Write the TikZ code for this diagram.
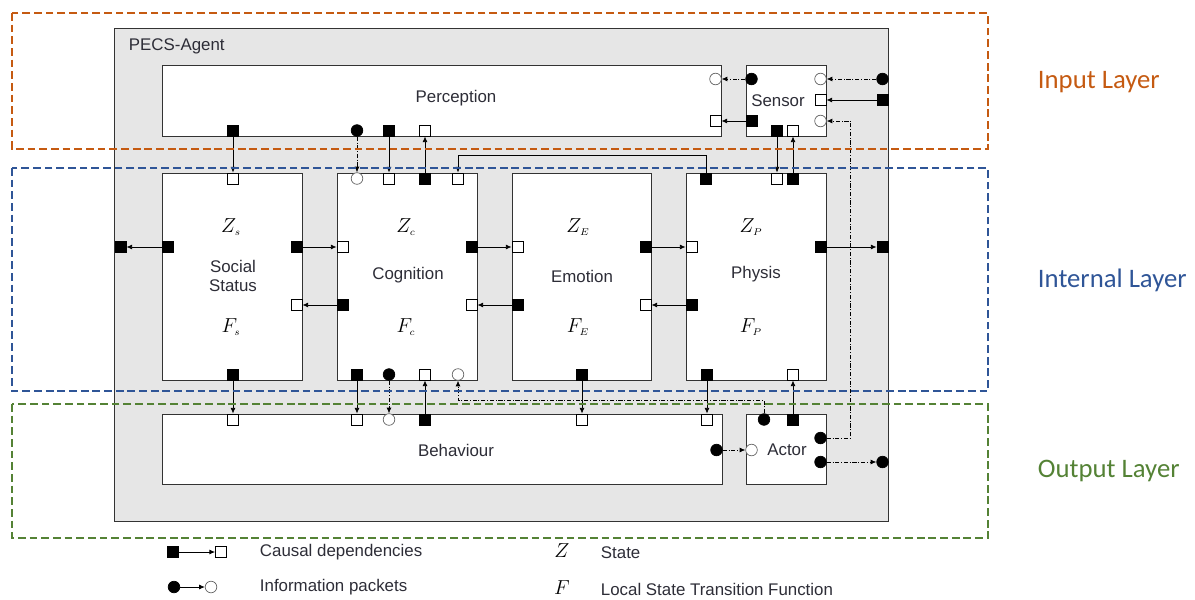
\documentclass[tikz,border=0pt]{standalone}
\usepackage{fontspec}
\setmainfont{Liberation Sans}
\newfontfamily\layerfont{Carlito}
\usetikzlibrary{arrows.meta,calc}
\definecolor{agentgray}{RGB}{230,230,230}
\definecolor{inputc}{RGB}{197,90,17}
\definecolor{internalc}{RGB}{47,85,151}
\definecolor{outputc}{RGB}{84,130,53}
\definecolor{boxtextc}{RGB}{45,45,55}
\tikzset{
  module/.style={draw=black!80,fill=white,line width=0.6pt,inner sep=0pt},
  causeout/.style={rectangle,draw,fill=black,minimum size=0.28cm,inner sep=0pt,line width=0.5pt},
  causein/.style={rectangle,draw,fill=white,minimum size=0.28cm,inner sep=0pt,line width=0.5pt},
  infoout/.style={circle,draw,fill=black,minimum size=0.29cm,inner sep=0pt,line width=0.5pt},
  infoin/.style={circle,draw=black!60,fill=white,minimum size=0.29cm,inner sep=0pt,line width=0.5pt},
  causal/.style={-{Latex[length=4pt,width=3.4pt]},line width=0.5pt},
  info/.style={causal,dash pattern=on 3pt off 1.2pt on 0.7pt off 1.2pt},
  layer/.style={line width=1.7pt,dash pattern=on 5.5pt off 2.8pt}
}

\begin{document}
\begin{tikzpicture}[x=0.025cm,y=-0.025cm,
  boxtext/.style={font=\fontsize{12}{14}\selectfont,text=boxtextc,align=center},
  statevar/.style={font=\fontsize{14}{16}\selectfont},
  layertext/.style={font=\layerfont\fontsize{19}{22}\selectfont,anchor=west}
]
  \useasboundingbox (0,0) rectangle (1195,599);
  % agent and modules
  \node[module,fill=agentgray,minimum width=19.325cm,minimum height=12.325cm] (agent) at (501.5,274.5) {};
  \node[boxtext,anchor=west] (agentname) at (124,46) {PECS-Agent};
  \node[module,minimum width=13.975cm,minimum height=1.775cm] (perception) at (441.5,100.5) {};
  \node[module,minimum width=2cm,minimum height=1.775cm] (sensor) at (786,100.5) {};
  \node[module,minimum width=3.5cm,minimum height=5.175cm] (social) at (232,276.5) {};
  \node[module,minimum width=3.5cm,minimum height=5.175cm] (cognition) at (407,276.5) {};
  \node[module,minimum width=3.475cm,minimum height=5.175cm] (emotion) at (581.5,276.5) {};
  \node[module,minimum width=3.5cm,minimum height=5.175cm] (physis) at (756,276.5) {};
  \node[module,minimum width=14cm,minimum height=1.75cm] (behaviour) at (442,449) {};
  \node[module,minimum width=2cm,minimum height=1.75cm] (actor) at (786,449) {};

  \node[boxtext] (perceptionname) at (456,98) {Perception};
  \node[boxtext] (sensorname) at (778,101) {Sensor};
  \node[boxtext] (socialname) at (233,276) {Social\\Status};
  \node[boxtext] (cognitionname) at (408,275) {Cognition};
  \node[boxtext] (emotionname) at (582,276) {Emotion};
  \node[boxtext] (physisname) at (756,274) {Physis};
  \node[boxtext] (behaviourname) at (456,450) {Behaviour};
  \node[boxtext] (actorname) at (787,450) {Actor};

  \node[statevar] (socz) at (231,227) {$Z_{\scriptscriptstyle s}$};
  \node[statevar] (socf) at (231,327) {$F_{\scriptscriptstyle s}$};
  \node[statevar] (cogz) at (406,227) {$Z_{\scriptscriptstyle c}$};
  \node[statevar] (cogf) at (406,327) {$F_{\scriptscriptstyle c}$};
  \node[statevar] (emoz) at (578,227) {$Z_{\scriptscriptstyle E}$};
  \node[statevar] (emof) at (578,327) {$F_{\scriptscriptstyle E}$};
  \node[statevar] (phyz) at (751,227) {$Z_{\scriptscriptstyle P}$};
  \node[statevar] (phyf) at (751,327) {$F_{\scriptscriptstyle P}$};

  % ports
  \node[causeout] (percB1) at (233,130.5) {};
  \node[infoout] (percB2) at (357,130.5) {};
  \node[causeout] (percB3) at (389,130.5) {};
  \node[causein] (percB4) at (425,130.5) {};
  \node[infoin] (percR1) at (715.5,79) {};
  \node[causein] (percR2) at (715.5,121) {};
  \node[infoout] (senL1) at (751.5,79) {};
  \node[causeout] (senL2) at (751.5,121) {};
  \node[infoin] (senR1) at (820.5,79) {};
  \node[causein] (senR2) at (820.5,100) {};
  \node[infoin] (senR3) at (820.5,121) {};
  \node[causeout] (senB1) at (777,130.5) {};
  \node[causein] (senB2) at (793,130.5) {};
  \node[infoout] (agtR1) at (882.5,79) {};
  \node[causeout] (agtR2) at (882.5,100) {};
  \node[causeout] (agtR3) at (882.5,247) {};
  \node[infoout] (agtR4) at (882.5,462) {};
  \node[causeout] (agtL) at (120.5,247) {};

  \node[causein] (socT) at (233,178.5) {};
  \node[causeout] (socL) at (167.5,247) {};
  \node[causeout] (socR1) at (296.5,247) {};
  \node[causein] (socR2) at (296.5,305) {};
  \node[causeout] (socB) at (233,374.5) {};

  \node[infoin] (cogT1) at (357,178.5) {};
  \node[causein] (cogT2) at (389,178.5) {};
  \node[causeout] (cogT3) at (425,178.5) {};
  \node[causein] (cogT4) at (458,178.5) {};
  \node[causein] (cogL1) at (342.5,247) {};
  \node[causeout] (cogL2) at (342.5,305) {};
  \node[causeout] (cogR1) at (471.5,247) {};
  \node[causein] (cogR2) at (471.5,305) {};
  \node[causeout] (cogB1) at (357,374.5) {};
  \node[infoout] (cogB2) at (389,374.5) {};
  \node[causein] (cogB3) at (425,374.5) {};
  \node[infoin] (cogB4) at (458,374.5) {};

  \node[causein] (emoL1) at (517.5,247) {};
  \node[causeout] (emoL2) at (517.5,305) {};
  \node[causeout] (emoR1) at (645.5,247) {};
  \node[causein] (emoR2) at (645.5,305) {};
  \node[causeout] (emoB) at (582,374.5) {};

  \node[causeout] (phyT1) at (706,178.5) {};
  \node[causein] (phyT2) at (777,178.5) {};
  \node[causeout] (phyT3) at (793,178.5) {};
  \node[causein] (phyL1) at (691.5,247) {};
  \node[causeout] (phyL2) at (691.5,305) {};
  \node[causeout] (phyR) at (820.5,247) {};
  \node[causeout] (phyB1) at (707,374.5) {};
  \node[causein] (phyB2) at (793,374.5) {};

  \node[causein] (behT1) at (233,419.5) {};
  \node[causein] (behT2) at (357,419.5) {};
  \node[infoin] (behT3) at (389,419.5) {};
  \node[causeout] (behT4) at (425,419.5) {};
  \node[causein] (behT5) at (582,419.5) {};
  \node[causein] (behT6) at (707,419.5) {};
  \node[infoout] (behR) at (716.5,450) {};
  \node[infoout] (actT1) at (764,419.5) {};
  \node[causeout] (actT2) at (793,419.5) {};
  \node[infoin] (actL) at (751.5,450) {};
  \node[infoout] (actR1) at (820.5,438) {};
  \node[infoout] (actR2) at (820.5,462) {};

  % causal dependencies
  \draw[causal] (percB1) -- (socT);
  \draw[causal] (percB3) -- (cogT2);
  \draw[causal] (cogT3) -- (percB4);
  \draw[causal] (senL2) -- (percR2);
  \draw[causal] (agtR2) -- (senR2);
  \draw[causal] (senB1) -- (phyT2);
  \draw[causal] (phyT3) -- (senB2);
  \draw[causal] (phyT1.north) -- ++(0,-17) -| (cogT4.north);
  \draw[causal] (socL) -- (agtL);
  \draw[causal] (socR1) -- (cogL1);
  \draw[causal] (cogL2) -- (socR2);
  \draw[causal] (cogR1) -- (emoL1);
  \draw[causal] (emoL2) -- (cogR2);
  \draw[causal] (emoR1) -- (phyL1);
  \draw[causal] (phyL2) -- (emoR2);
  \draw[causal] (phyR) -- (agtR3);
  \draw[causal] (socB) -- (behT1);
  \draw[causal] (cogB1) -- (behT2);
  \draw[causal] (behT4) -- (cogB3);
  \draw[causal] (emoB) -- (behT5);
  \draw[causal] (phyB1) -- (behT6);
  \draw[causal] (actT2) -- (phyB2);
  % information packets
  \draw[info] (percB2) -- (cogT1);
  \draw[info] (senL1) -- (percR1);
  \draw[info] (agtR1) -- (senR1);
  \draw[info] (cogB2) -- (behT3);
  \draw[info] (actT1.north) -- ++(0,-13) -| (cogB4.south);
  \draw[info] (behR) -- (actL);
  \draw[info] (actR1.east) -- ++(24,0) |- (senR3.east);
  \draw[info] (actR2) -- (agtR4);

  % layers
  \draw[layer,draw=inputc] (12,13) rectangle (988,149);
  \draw[layer,draw=internalc] (12,168) rectangle (988,391);
  \draw[layer,draw=outputc] (12,404) rectangle (988,538);
  \node[layertext,text=inputc] (inputname) at (1033,82) {Input Layer};
  \node[layertext,text=internalc] (internalname) at (1033,280) {Internal Layer};
  \node[layertext,text=outputc] (outputname) at (1033,471) {Output Layer};

  % legend
  \node[causeout] (legsq1) at (173,552) {};
  \node[causein] (legsq2) at (221,552) {};
  \node[infoout] (legci1) at (174,587) {};
  \node[infoin] (legci2) at (211,587) {};
  \draw[causal] (legsq1) -- (legsq2);
  \draw[causal] (legci1) -- (legci2);
  \node[boxtext,anchor=west] (legcausal) at (255,552) {Causal dependencies};
  \node[boxtext,anchor=west] (leginfo) at (255,587) {Information packets};
  \node[statevar] (legz) at (562,551) {$Z$};
  \node[statevar] (legf) at (562,588) {$F$};
  \node[boxtext,anchor=west] (legstate) at (596,553) {State};
  \node[boxtext,anchor=west] (legfunc) at (596,589) {Local State Transition Function};
\end{tikzpicture}
\end{document}
